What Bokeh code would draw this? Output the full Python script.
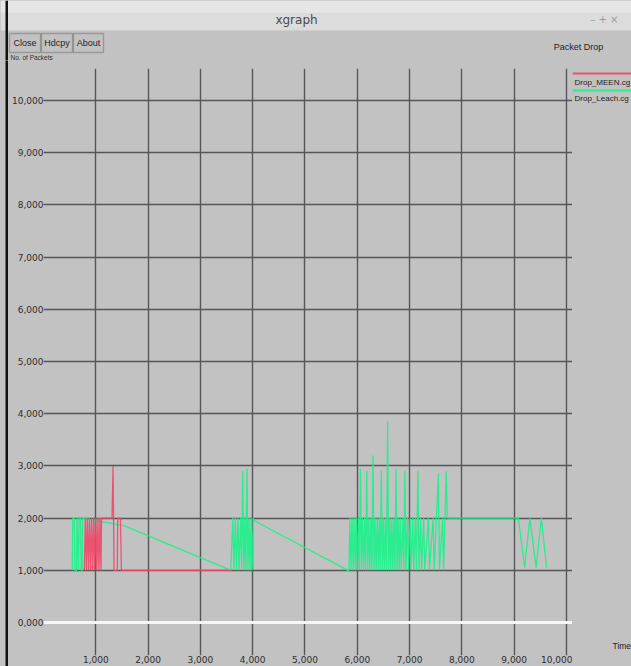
from bokeh.plotting import figure
from bokeh.layouts import column, row
from bokeh.models import Range1d, FixedTicker, Span, Label, BoxAnnotation
from bokeh.embed import file_html
from bokeh.resources import INLINE

# ---------------- data (time in s, packets dropped) ----------------
X_TICKS = [1, 2, 3, 4, 5, 6, 7, 8, 9, 10]
X_TICK_LABELS = ["1,000", "2,000", "3,000", "4,000", "5,000",
                 "6,000", "7,000", "8,000", "9,000", "10,000"]
Y_TICKS = [0, 1, 2, 3, 4, 5, 6, 7, 8, 9, 10]
Y_TICK_LABELS = ["0,000", "1,000", "2,000", "3,000", "4,000", "5,000",
                 "6,000", "7,000", "8,000", "9,000", "10,000"]

SERIES_NAMES = ["Drop_MEEN.cg", "Drop_Leach.cg"]

RED_T = [0.78, 0.80, 0.82, 0.84, 0.86, 0.88, 0.90, 0.92, 0.94, 0.96,
         0.98, 1.00, 1.02, 1.04, 1.06, 1.08, 1.10, 1.11, 1.31, 1.33,
         1.35, 1.41, 1.42, 1.47, 1.49, 3.60]
RED_Y = [1, 2, 1, 2, 1, 2, 1, 2, 1, 2,
         1, 2, 1, 2, 1, 2, 1, 2, 2, 3.0,
         1, 1, 2, 2, 1, 1]

GREEN_T = [0.55, 0.56, 0.59, 0.60, 0.63, 0.64, 0.67, 0.68, 0.71, 0.72,
           0.74, 0.75, 1.55, 3.58,
           3.62, 3.64, 3.67, 3.69, 3.72, 3.74, 3.77, 3.79, 3.81, 3.83,
           3.85, 3.87, 3.89, 3.91, 3.93, 3.95, 3.97, 3.99, 4.01, 4.03,
           5.82,
           5.84, 5.86, 5.88, 5.90, 5.92, 5.94, 5.96, 5.98, 6.00, 6.02,
           6.04, 6.06, 6.08, 6.10, 6.12, 6.14, 6.16, 6.18, 6.20, 6.22,
           6.24, 6.26, 6.28, 6.30, 6.32, 6.34, 6.36, 6.38, 6.40, 6.42,
           6.44, 6.46, 6.48, 6.50, 6.52, 6.54, 6.56, 6.58, 6.60, 6.62,
           6.64, 6.66, 6.68, 6.70, 6.72, 6.74, 6.76, 6.78, 6.80, 6.82,
           6.84, 6.87, 6.89, 6.91, 6.93, 6.96, 6.98, 7.01, 7.03, 7.06,
           7.08, 7.11, 7.13, 7.16, 7.18, 7.21, 7.23, 7.27, 7.29, 7.36,
           7.38, 7.45, 7.47, 7.55, 7.57, 7.63, 7.65, 7.70, 7.72,
           9.08, 9.20, 9.30, 9.42, 9.52, 9.62]
GREEN_Y = [1, 2, 2, 1, 1, 2, 1, 2, 2, 1,
           1, 2, 1.85, 1.0,
           2, 1, 2, 1, 2, 1, 2, 1, 2.9, 1,
           2, 1, 2.95, 1, 2, 1, 2, 1, 2, 1.95,
           1.0,
           1, 2, 1, 2, 1, 2, 1, 2, 1, 2,
           1, 2.95, 1, 2, 1, 2, 1, 2.9, 1, 2,
           1, 2, 1, 3.2, 1, 2, 1, 2, 1, 2,
           1, 2.9, 1, 2, 1, 2, 1, 3.85, 1, 2,
           1, 2, 1, 2, 1, 2.95, 1, 2, 1, 2,
           1, 2, 1, 2.9, 1, 2, 1, 2, 1, 2,
           1, 2, 1, 2.9, 1, 2, 1, 2, 1, 2,
           1, 2, 1, 2.85, 1, 2, 1, 2.9, 2.0,
           2.0, 1.05, 2.0, 1.05, 2.0, 1.05]

# ---------------- styling ----------------
BG = "#c2c2c2"
GRID = "#565656"
TXT = "#2e2e2e"
RED = "#f04868"
GREEN = "#18f28a"
FONT = "DejaVu Sans"
SMALL = "Liberation Sans"
W, H = 631, 666
TOP_H = 60
FRAME_L, FRAME_R, FRAME_T, FRAME_B = 43, 572, 68, 655   # plot frame, page px
BG_STYLE = {"background-color": BG}


def deco_fig(x0, x1, y0, y1, bt=0, bb=0):
    """A figure in page pixel coordinates (frame from y0+bt to y1-bb)."""
    f = figure(width=x1 - x0, height=y1 - y0,
               x_range=Range1d(x0, x1), y_range=Range1d(y1 - bb, y0 + bt),
               output_backend="svg", toolbar_location=None,
               x_axis_location=None, y_axis_location=None,
               min_border=0, min_border_top=bt, min_border_bottom=bb,
               background_fill_color=BG, styles=BG_STYLE,
               border_fill_color=BG, outline_line_color=None)
    f.grid.visible = False
    return f


def box(f, l, r, t, b, **kw):
    f.add_layout(BoxAnnotation(left=l, right=r, top=t, bottom=b, **kw))


def label(f, x, y, text, size, color=TXT, align="left", font=SMALL):
    f.add_layout(Label(x=x, y=y, text=text, text_font=font,
                       text_font_size=size, text_color=color,
                       text_align=align, text_baseline="middle"))


# ---------------- top strip: title bar, buttons, plot title ----------------
top = deco_fig(0, W, 0, TOP_H)
box(top, 0, W, 0, 30, fill_color="#dcdcdc", fill_alpha=1, line_color=None)
box(top, 0, W, 0, 12, fill_color="#e6e6e6", fill_alpha=1, line_color=None)
box(top, 5, 7.5, 0, TOP_H + 5, fill_color="#111111", fill_alpha=1, line_color=None)
label(top, 296, 19, "xgraph", "12px", color="#4a4a4a", align="center", font=FONT)
label(top, 607, 19, "–  +  ×", "10px", color="#9c9c9c", align="center", font=FONT)
for (l, r, t) in ((9, 40, "Close"), (41, 72, "Hdcpy"), (73, 103, "About")):
    box(top, l, r, 33, 52, fill_alpha=0, line_color="#3a3a3a", line_width=1.3)
    label(top, (l + r) / 2, 42.5, t, "9px", color="#222222", align="center")
label(top, 10, 56.5, "No. of Packets", "6.5px", color="#333333")
label(top, 578, 46, "Packet Drop", "9px", color="#222222", align="center")

# ---------------- left border strip ----------------
left = deco_fig(0, 8, TOP_H, H)
box(left, 5, 7.5, TOP_H - 50, H + 50, fill_color="#111111", fill_alpha=1,
    line_color=None)

# ---------------- main plot ----------------
p = figure(width=FRAME_R - 8, height=H - TOP_H,
           x_range=Range1d(0, 10.115), y_range=Range1d(-0.632, 10.613),
           output_backend="svg", toolbar_location=None,
           min_border_left=FRAME_L - 8, min_border_right=0,
           min_border_top=FRAME_T - TOP_H, min_border_bottom=H - FRAME_B,
           background_fill_color=BG, border_fill_color=BG,
           outline_line_color=None, styles=BG_STYLE)

for ax, ticks, labels in ((p.xaxis, X_TICKS, X_TICK_LABELS),
                          (p.yaxis, Y_TICKS, Y_TICK_LABELS)):
    ax.ticker = FixedTicker(ticks=ticks)
    ax.major_label_overrides = dict(zip(ticks, labels))
    ax.axis_line_color = None
    ax.major_tick_line_color = None
    ax.minor_tick_line_color = None
    ax.major_tick_out = 0
    ax.major_tick_in = 0
    ax.minor_tick_out = 0
    ax.minor_tick_in = 0
    ax.major_label_standoff = 0
    ax.major_label_text_font = FONT
    ax.major_label_text_font_size = "9px"
    ax.major_label_text_color = TXT

p.xgrid.ticker = FixedTicker(ticks=X_TICKS)
p.ygrid.ticker = FixedTicker(ticks=Y_TICKS[1:])
for g in (p.xgrid, p.ygrid):
    g.grid_line_color = GRID
    g.grid_line_width = 1.4

# zero axis drawn in white, as xgraph does
p.add_layout(Span(location=Y_TICKS[0], dimension="width",
                  line_color="#f6f6f6", line_width=3))

p.line(GREEN_T, GREEN_Y, line_color=GREEN, line_width=1.3, line_alpha=0.9)
p.line(RED_T, RED_Y, line_color=RED, line_width=1.3, line_alpha=0.9)

# ---------------- right strip: legend and x-axis name ----------------
right = deco_fig(FRAME_R, W, TOP_H, H, bt=FRAME_T - TOP_H, bb=H - FRAME_B)
box(right, FRAME_R, W, 72, 74, fill_color=RED, fill_alpha=0.9, line_color=None)
label(right, 574, 82, SERIES_NAMES[0], "8px", color="#222222")
box(right, FRAME_R, W, 89, 91, fill_color=GREEN, fill_alpha=0.9, line_color=None)
label(right, 574, 98, SERIES_NAMES[1], "8px", color="#222222")
label(right, 612, 645, "Time", "8.5px", color="#222222")

layout = column(top, row(column(left, styles=BG_STYLE), p, right, styles=BG_STYLE),
                styles=BG_STYLE)
html = file_html(layout, INLINE)
html = html.replace("<head>", "<head><style>html,body{background:%s !important}</style>" % BG, 1)
open("out.html", "w").write(html)
